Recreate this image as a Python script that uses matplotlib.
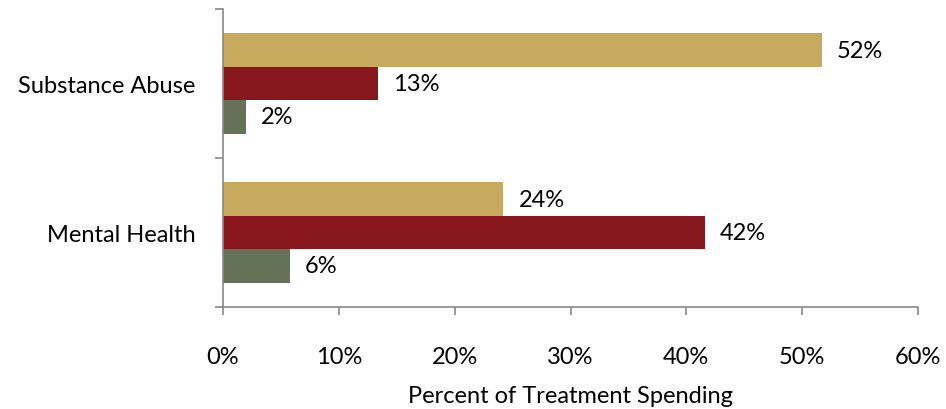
import matplotlib
matplotlib.use("Agg")
import matplotlib.pyplot as plt
import numpy as np

categories = ["Mental Health", "Substance Abuse"]
series_names = ["Series A", "Series B", "Series C"]
tan_values = [24.2, 51.7]
red_values = [41.6, 13.4]
green_values = [5.8, 2.0]
xticks = [0, 10, 20, 30, 40, 50, 60]
xtick_labels = ["0%", "10%", "20%", "30%", "40%", "50%", "60%"]
xlabel = "Percent of Treatment Spending"

colors = ["#C8AA5E", "#87171C", "#657257"]

plt.rcParams['font.family'] = ['Lato', 'DejaVu Sans']
FS = 17

fig = plt.figure(figsize=(9.46, 4.10), dpi=100)
ax = fig.add_axes([223/946, 1 - 308/410, (918-223)/946, (308-10)/410])

y = np.arange(len(categories))
h = 0.224
offsets = [h, 0, -h]
for vals, off, col in zip([tan_values, red_values, green_values], offsets, colors):
    ax.barh(y + off, vals, height=h, color=col, edgecolor='none')
    for v, yy in zip(vals, y + off):
        ax.text(v + 1.3, yy, f"{round(v):.0f}%", va='center', ha='left', fontsize=FS, color='black')

ax.set_xlim(0, 60)
ax.set_ylim(-0.5, 1.5)
ax.set_xticks(xticks)
ax.set_xticklabels(xtick_labels, fontsize=FS)
ax.set_yticks(y)
ax.set_yticklabels(categories, fontsize=FS)
ax.set_yticks([-0.5, 0.5, 1.5], minor=True)
ax.tick_params(axis='y', which='major', length=0, pad=20)
ax.tick_params(axis='y', which='minor', length=6, color='#888888', width=1.2)
ax.tick_params(axis='x', length=6, color='#888888', width=1.2, pad=22)
ax.set_xlabel(xlabel, fontsize=FS, labelpad=13)

for s in ['top', 'right']:
    ax.spines[s].set_visible(False)
for s in ['left', 'bottom']:
    ax.spines[s].set_color('#888888')
    ax.spines[s].set_linewidth(1.2)

fig.savefig("out.png", dpi=100)
